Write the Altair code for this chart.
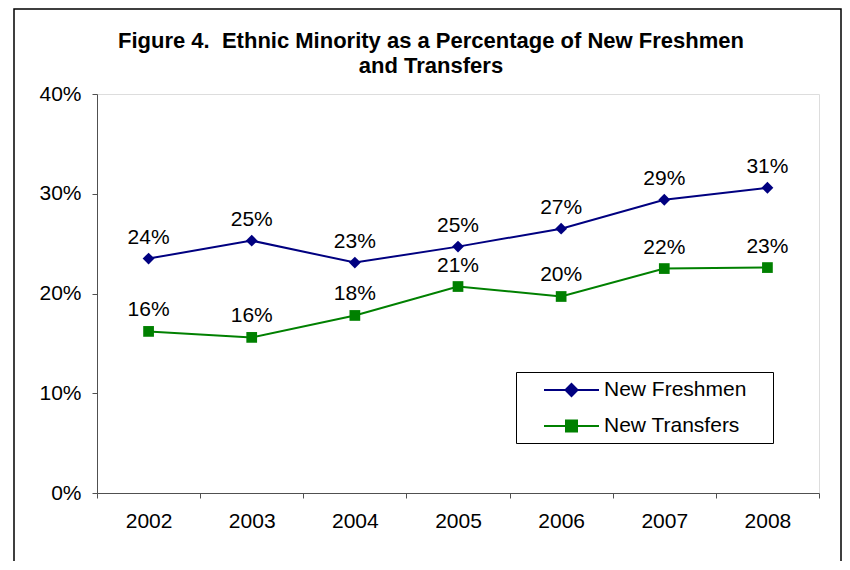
import altair as alt
import pandas as pd

years = ["2002", "2003", "2004", "2005", "2006", "2007", "2008"]
series_names = ["New Freshmen", "New Transfers"]
freshmen = [23.5, 25.3, 23.1, 24.7, 26.5, 29.4, 30.6]
transfers = [16.2, 15.6, 17.8, 20.7, 19.7, 22.5, 22.6]
freshmen_labels = ["24%", "25%", "23%", "25%", "27%", "29%", "31%"]
transfers_labels = ["16%", "16%", "18%", "21%", "20%", "22%", "23%"]
y_ticks = [0, 10, 20, 30, 40]
title_line1 = "Figure 4.\u00a0 Ethnic Minority as a Percentage of New Freshmen"
title_line2 = "and Transfers"

colors = ["#000080", "#008000"]
FONT = "Liberation Sans"

rows = []
for yr, v, lb in zip(years, freshmen, freshmen_labels):
    rows.append({"year": yr, "series": series_names[0], "value": v, "label": lb})
for yr, v, lb in zip(years, transfers, transfers_labels):
    rows.append({"year": yr, "series": series_names[1], "value": v, "label": lb})
df = pd.DataFrame(rows)

x_enc = alt.X(
    "year:O",
    bandPosition=0.5,
    scale=alt.Scale(type="band", domain=years, paddingInner=0, paddingOuter=0),
    axis=alt.Axis(
        title=None, tickBand="extent", labelAngle=0, labelFontSize=21, labelFont=FONT,
        labelColor="black", domainColor="#505050", tickColor="#505050", tickSize=5,
        labelPadding=12, grid=False,
    ),
)
y_enc = alt.Y(
    "value:Q",
    scale=alt.Scale(domain=[0, 40], nice=False, zero=True),
    axis=alt.Axis(
        title=None, values=y_ticks, labelExpr="datum.value + '%'", labelFontSize=21,
        labelFont=FONT, labelColor="black", domainColor="#505050", tickColor="#505050",
        tickSize=5, labelPadding=11, grid=False,
    ),
)

def cscale():
    return alt.Scale(domain=series_names, range=colors)

base = alt.Chart(df)

line = base.mark_line(strokeWidth=2).encode(
    x=x_enc, y=y_enc, color=alt.Color("series:N", scale=cscale(), legend=None)
)
pts = base.mark_point(filled=True, opacity=1).encode(
    x=x_enc, y=y_enc,
    color=alt.Color("series:N", scale=cscale(), legend=None),
    shape=alt.Shape("series:N", scale=alt.Scale(domain=series_names, range=["diamond", "square"]), legend=None),
    size=alt.Size("series:N", scale=alt.Scale(domain=series_names, range=[140, 115]), legend=None),
)
labels = base.mark_text(dy=-15, baseline="alphabetic", fontSize=21, font=FONT, color="black").encode(
    x=x_enc, y=y_enc, text="label:N"
)

path_f = "M1,0H6.5M3.75,-0.6L4.35,0L3.75,0.6L3.15,0Z"
path_t = "M1,0H6.5M3.2,-0.55H4.3V0.55H3.2Z"
leg_props = dict(
    title="x", titleOrient="right", titleFontSize=10, titleOpacity=0, titlePadding=14,
    orient="none", legendX=419, legendY=278, strokeColor="black",
    fillColor="white", padding=7, labelFontSize=21, labelFont=FONT, labelColor="black",
    symbolSize=400, symbolStrokeWidth=2, labelOffset=59, rowPadding=15, symbolOpacity=1,
)
leg = base.transform_filter("false").mark_point(filled=True, strokeWidth=2).encode(
    x=x_enc, y=y_enc,
    color=alt.Color("series:N", scale=cscale(), legend=alt.Legend(**leg_props)),
    stroke=alt.Stroke("series:N", scale=cscale(), legend=alt.Legend(**leg_props)),
    shape=alt.Shape("series:N", scale=alt.Scale(domain=series_names, range=[path_f, path_t]),
                    legend=alt.Legend(**leg_props)),
)

def title_text(txt, ypix):
    return alt.Chart(pd.DataFrame({"t": [txt]})).mark_text(
        font=FONT, fontSize=22, fontWeight="bold", color="black", align="center",
        baseline="alphabetic", clip=False,
    ).encode(text="t:N", x=alt.value(334), y=alt.value(ypix))

title1 = title_text(title_line1, -46)
title2 = title_text(title_line2, -21)

frame = alt.Chart(alt.Data(values=[{"a": 1}])).mark_rect(
    fill=None, stroke="black", strokeWidth=1.5, clip=False
).encode(
    x=alt.value(-83), x2=alt.value(744), y=alt.value(-85), y2=alt.value(620)
)

chart = alt.layer(frame, title1, title2, line, pts, labels, leg).resolve_scale(
    color="independent", shape="independent", stroke="independent", size="independent",
).properties(
    width=722, height=399,
    autosize=alt.AutoSizeParams(type="none"),
    padding={"left": 89, "top": 86, "right": 23, "bottom": 68},
).configure_view(stroke=None).configure(background="white")

chart.save("out.html", embed_options={"renderer": "svg", "actions": False})
